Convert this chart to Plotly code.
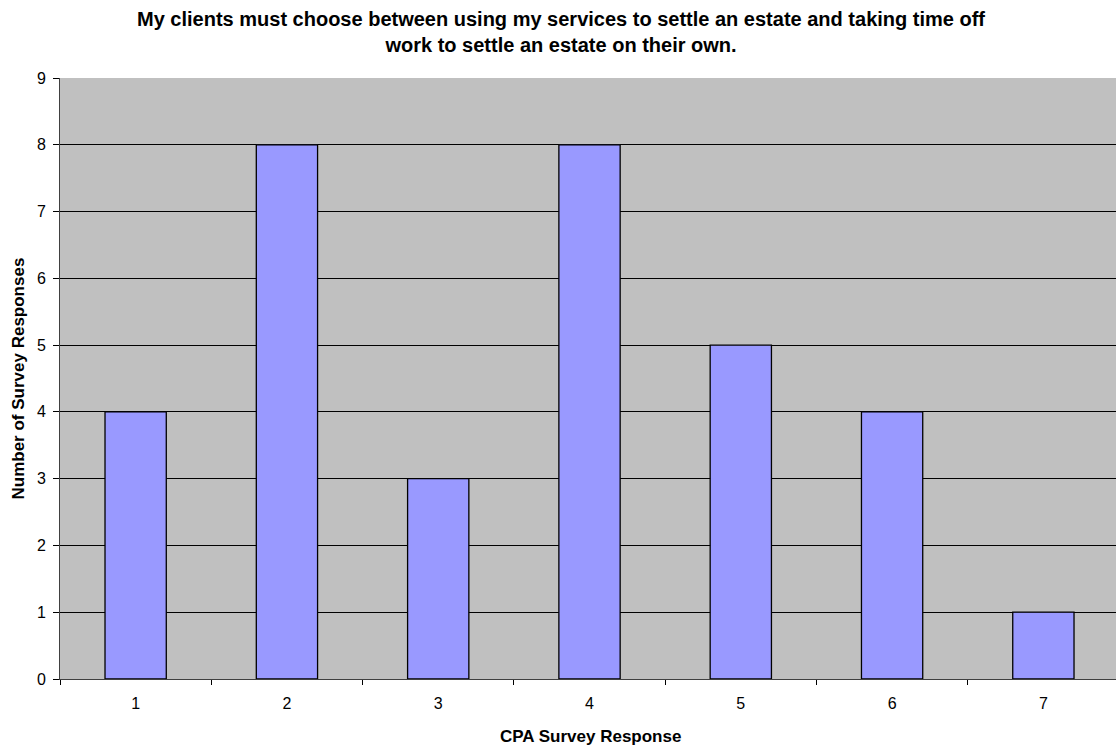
import plotly.graph_objects as go

categories = ["1", "2", "3", "4", "5", "6", "7"]
responses = [4, 8, 3, 8, 5, 4, 1]
y_ticks = [0, 1, 2, 3, 4, 5, 6, 7, 8, 9]

FONT = "Liberation Sans, Arial, sans-serif"
PLOT_LEFT, PLOT_TOP, PLOT_BOTTOM = 60, 78, 679
W, H = 1116, 746
plot_w = W - PLOT_LEFT
plot_h = PLOT_BOTTOM - PLOT_TOP

fig = go.Figure(
    go.Bar(
        x=categories,
        y=responses,
        width=0.405,
        marker=dict(color="#9999FF", line=dict(color="#000000", width=1.3)),
    )
)

fig.update_layout(
    width=W,
    height=H,
    margin=dict(l=PLOT_LEFT, r=0, t=PLOT_TOP, b=H - PLOT_BOTTOM, pad=0),
    paper_bgcolor="#FFFFFF",
    plot_bgcolor="#C0C0C0",
    font=dict(family=FONT, size=16, color="#000000"),
    showlegend=False,
    xaxis=dict(
        type="category",
        tickson="boundaries",
        ticks="outside",
        ticklen=5,
        tickcolor="#000000",
        showline=True,
        linecolor="#404040",
        linewidth=1,
        showgrid=False,
        range=[-0.5, 6.48],
        tickfont=dict(size=16, family=FONT),
        ticklabelstandoff=10,
    ),
    yaxis=dict(
        range=[0, 9],
        tickvals=y_ticks,
        ticks="outside",
        ticklen=6,
        tickcolor="#000000",
        showline=True,
        linecolor="#404040",
        linewidth=1,
        showgrid=True,
        gridcolor="#000000",
        gridwidth=1,
        zeroline=False,
        tickfont=dict(size=16, family=FONT),
        ticklabelstandoff=4,
    ),
    annotations=[
        dict(
            text="<b>My clients must choose between using my services to settle an estate and taking time off<br>work to settle an estate on their own.</b>",
            xref="paper", yref="paper",
            x=(561 - PLOT_LEFT) / plot_w, y=1 + (PLOT_TOP - 6) / plot_h,
            xanchor="center", yanchor="top",
            showarrow=False,
            font=dict(size=20, family=FONT),
        ),
        dict(
            text="<b>CPA Survey Response</b>",
            xref="paper", yref="paper",
            x=(590 - PLOT_LEFT) / plot_w, y=-(736 - PLOT_BOTTOM) / plot_h,
            xanchor="center", yanchor="middle",
            showarrow=False,
            font=dict(size=17, family=FONT),
        ),
        dict(
            text="<b>Number of Survey Responses</b>",
            xref="paper", yref="paper",
            x=-(PLOT_LEFT - 18) / plot_w, y=0.5,
            xanchor="center", yanchor="middle",
            textangle=-90,
            showarrow=False,
            font=dict(size=17, family=FONT),
        ),
    ],
)

fig.write_html("out.html")
